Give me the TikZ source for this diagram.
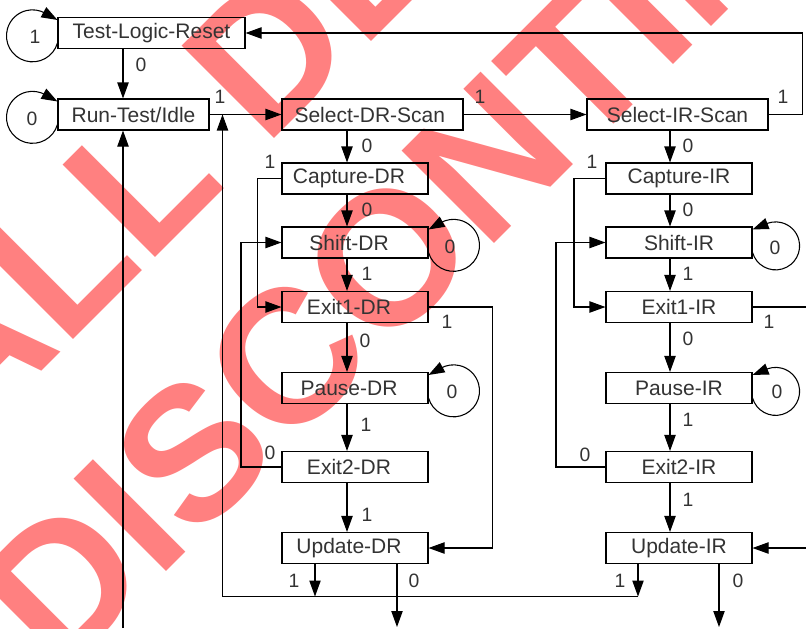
\documentclass[tikz,border=0pt]{standalone}
\usepackage{fontspec}
\setmainfont{Liberation Sans}
\usetikzlibrary{arrows.meta,calc}
\definecolor{txt}{HTML}{333333}
\definecolor{wm}{HTML}{FF8080}
\newcommand{\boxfont}{\fontsize{15.75}{18}\selectfont}
\newcommand{\lblfont}{\fontsize{14.5}{16}\selectfont}
\newcommand{\wmfont}{\fontsize{142.5}{150}\selectfont\bfseries}
\begin{document}
\begin{tikzpicture}[x=0.75pt,y=-0.75pt,line width=0.8pt,
  box/.style={draw,inner sep=0pt,minimum height=23.25pt,font=\boxfont,text=txt},
  dbox/.style={box,minimum width=109.5pt},
  drbox/.style={dbox,execute at end node=\hspace{9pt}},
  lbl/.style={inner sep=0pt,font=\lblfont,text=txt},
  arr/.style={-{Triangle[length=12pt,width=8.5pt]}},
  wmtext/.style={inner sep=0pt,font=\wmfont,text=wm,anchor=base west,rotate=45}]
\useasboundingbox (0,0) rectangle (806,628);
% watermark
\begin{scope}
\clip (0,0) rectangle (806,628);
\node[wmtext] (wm1) at (-33,446) {ALL DEVICES};
\node[wmtext] (wm2) at (60,678) {DISCONTINUED};
\end{scope}
% boxes
\node[box,minimum width=140.25pt] (tlr) at (151.5,33) {Test-Logic-Reset};
\node[box,minimum width=113.25pt] (rti) at (133.5,114.5) {Run-Test/Idle};
\node[box,minimum width=135.75pt,execute at end node=\hspace{4pt}] (sdr) at (372.5,114.5) {Select-DR-Scan};
\node[box,minimum width=135.75pt] (sir) at (677.5,114.5) {Select-IR-Scan};
\node[drbox] (cdr) at (355,178.5) {Capture-DR};
\node[drbox] (shdr) at (355,242.5) {Shift-DR};
\node[drbox] (e1dr) at (355,307) {Exit1-DR};
\node[drbox] (pdr) at (355,388) {Pause-DR};
\node[drbox] (e2dr) at (355,467) {Exit2-DR};
\node[drbox] (udr) at (355,548) {Update-DR};
\node[dbox] (cir) at (679,178.5) {Capture-IR};
\node[dbox] (shir) at (679,242.5) {Shift-IR};
\node[dbox] (e1ir) at (679,307) {Exit1-IR};
\node[dbox] (pir) at (679,388) {Pause-IR};
\node[dbox] (e2ir) at (679,467) {Exit2-IR};
\node[dbox] (uir) at (679,548) {Update-IR};
% helper coordinates
\coordinate (xdr) at (347,0);
\coordinate (xir) at (670,0);
\coordinate (xrti) at (123,628);
\coordinate (rr) at (802.5,0);
\coordinate (ldra) at (257.5,0);
\coordinate (ldrb) at (241,0);
\coordinate (rdr) at (492.5,0);
\coordinate (lira) at (574,0);
\coordinate (lirb) at (556,0);
\coordinate (edge) at (806,0);
\coordinate (busL) at (222.5,596.5);
\coordinate (busR) at (638,596.5);
\coordinate (udone) at (315,0);
\coordinate (udzero) at (397,627);
\coordinate (uizero) at (719,627);
% self loops
\draw[arr] ($(tlr.west)+(0,10)$) arc[start angle=16,end angle=300,radius=26] -- ($(tlr.north west)+(0,3)$);
\draw[arr] ($(rti.west)+(0,10)$) arc[start angle=16,end angle=300,radius=26] -- ($(rti.north west)+(0,3)$);
\draw[arr] ($(shdr.east)+(0,10)$) arc[start angle=164,end angle=-120,radius=26] -- ($(shdr.north east)+(0,3)$);
\draw[arr] ($(pdr.east)+(0,10)$) arc[start angle=164,end angle=-120,radius=26] -- ($(pdr.north east)+(0,3)$);
\draw[arr] ($(shir.east)+(0,10)$) arc[start angle=164,end angle=-120,radius=24] -- ($(shir.north east)+(0,3)$);
\draw[arr] ($(pir.east)+(0,10)$) arc[start angle=164,end angle=-120,radius=24] -- ($(pir.north east)+(0,3)$);
% top connectors
\draw[arr] (tlr.south -| xrti) -- (rti.north -| xrti);
\draw[arr] (xrti) -- (rti.south -| xrti);
\draw[arr] (rti.east) -- (sdr.west);
\draw[arr] (sdr.east) -- (sir.west);
\draw[arr] (sir.east) -| (rr |- tlr.east) -- (tlr.east);
% DR column
\draw[arr] (sdr.south -| xdr) -- (cdr.north -| xdr);
\draw[arr] (cdr.south -| xdr) -- (shdr.north -| xdr);
\draw[arr] (shdr.south -| xdr) -- (e1dr.north -| xdr);
\draw[arr] (e1dr.south -| xdr) -- (pdr.north -| xdr);
\draw[arr] (pdr.south -| xdr) -- (e2dr.north -| xdr);
\draw[arr] (e2dr.south -| xdr) -- (udr.north -| xdr);
\draw[arr] (cdr.west) -- (cdr.west -| ldra) |- (e1dr.west);
\draw[arr] (e2dr.west) -- (e2dr.west -| ldrb) |- (shdr.west);
\draw[arr] (e1dr.east) -- (e1dr.east -| rdr) |- (udr.east);
% IR column
\draw[arr] (sir.south -| xir) -- (cir.north -| xir);
\draw[arr] (cir.south -| xir) -- (shir.north -| xir);
\draw[arr] (shir.south -| xir) -- (e1ir.north -| xir);
\draw[arr] (e1ir.south -| xir) -- (pir.north -| xir);
\draw[arr] (pir.south -| xir) -- (e2ir.north -| xir);
\draw[arr] (e2ir.south -| xir) -- (uir.north -| xir);
\draw[arr] (cir.west) -- (cir.west -| lira) |- (e1ir.west);
\draw[arr] (e2ir.west) -- (e2ir.west -| lirb) |- (shir.west);
\draw (e1ir.east) -- (e1ir.east -| edge);
\draw[arr] (uir.east -| edge) -- (uir.east);
% bottom
\draw[arr] (udr.south -| udone) -- (udone |- busL);
\draw[arr] (uir.south -| busR) -- (busR);
\draw[arr] (busR) -- (busL) -- (busL |- rti.east);
\draw[arr] (udr.south -| udzero) -- (udzero);
\draw[arr] (uir.south -| uizero) -- (uizero);
% labels
\node[lbl] (la) at (35,37) {1};
\node[lbl] (lb) at (32,119) {0};
\node[lbl] (lc) at (141,65) {0};
\node[lbl] (ld) at (220,97) {1};
\node[lbl] (le) at (480,97) {1};
\node[lbl] (lf) at (783,97) {1};
\node[lbl] (lg) at (367,146) {0};
\node[lbl] (lh) at (688,146) {0};
\node[lbl] (li) at (270,162) {1};
\node[lbl] (lj) at (592,162) {1};
\node[lbl] (lk) at (367,210) {0};
\node[lbl] (ll) at (688,210) {0};
\node[lbl] (lm) at (450,247) {0};
\node[lbl] (ln) at (775,248) {0};
\node[lbl] (lo) at (367,274) {1};
\node[lbl] (lp) at (688,274) {1};
\node[lbl] (lq) at (447,322) {1};
\node[lbl] (lr) at (769,322) {1};
\node[lbl] (ls) at (365,341) {0};
\node[lbl] (lt) at (688,339) {0};
\node[lbl] (lu) at (452,392) {0};
\node[lbl] (lv) at (777,392) {0};
\node[lbl] (lw) at (366,425) {1};
\node[lbl] (lx) at (688,420) {1};
\node[lbl] (ly) at (270,453) {0};
\node[lbl] (lz) at (585,455) {0};
\node[lbl] (maa) at (367,515) {1};
\node[lbl] (mab) at (688,500) {1};
\node[lbl] (mac) at (294,581) {1};
\node[lbl] (mad) at (414,581) {0};
\node[lbl] (mae) at (620,581) {1};
\node[lbl] (maf) at (738,581) {0};
\end{tikzpicture}
\end{document}
